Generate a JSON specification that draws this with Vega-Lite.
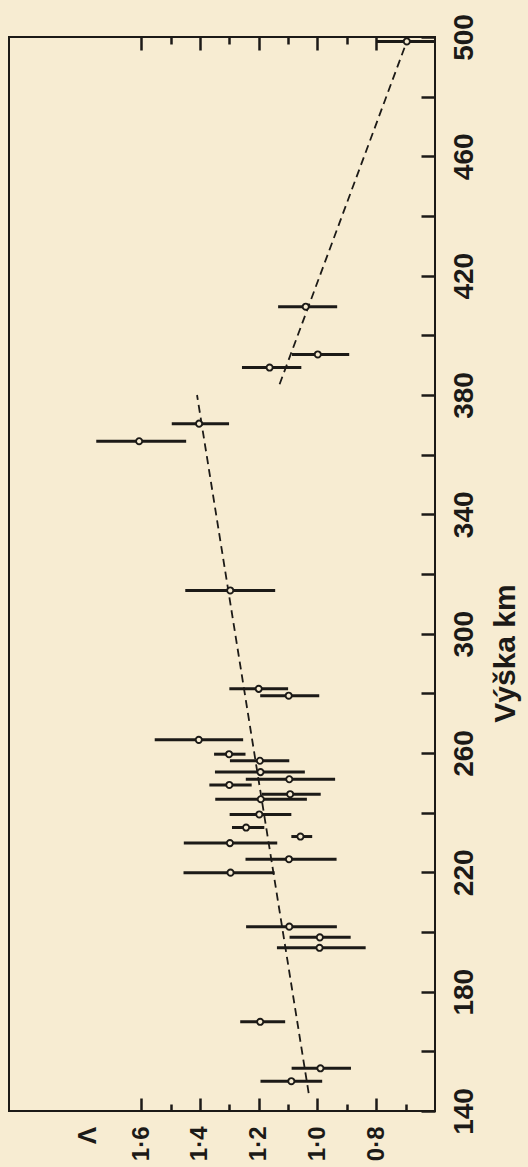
{
  "$schema": "https://vega.github.io/schema/vega-lite/v6.json",
  "autosize": "none",
  "width": 426,
  "height": 1074,
  "padding": {"left": 9, "top": 37, "right": 93, "bottom": 56},
  "background": "#f7ecd2",
  "datasets": {
    "pts": [
      {"h": 498.5, "lam": 0.696, "lo": 0.6, "hi": 0.8},
      {"h": 409.6, "lam": 1.04, "lo": 0.933, "hi": 1.134},
      {"h": 393.6, "lam": 0.999, "lo": 0.892, "hi": 1.087},
      {"h": 389.2, "lam": 1.163, "lo": 1.055, "hi": 1.257},
      {"h": 370.4, "lam": 1.403, "lo": 1.301, "hi": 1.496},
      {"h": 364.5, "lam": 1.607, "lo": 1.447, "hi": 1.753},
      {"h": 314.5, "lam": 1.297, "lo": 1.144, "hi": 1.45},
      {"h": 281.5, "lam": 1.2, "lo": 1.1, "hi": 1.3},
      {"h": 279.2, "lam": 1.098, "lo": 0.994, "hi": 1.195},
      {"h": 264.4, "lam": 1.404, "lo": 1.253, "hi": 1.554},
      {"h": 259.6, "lam": 1.301, "lo": 1.245, "hi": 1.352},
      {"h": 257.4, "lam": 1.196, "lo": 1.096, "hi": 1.298},
      {"h": 253.6, "lam": 1.194, "lo": 1.043, "hi": 1.349},
      {"h": 251.2, "lam": 1.096, "lo": 0.94, "hi": 1.244},
      {"h": 249.3, "lam": 1.3, "lo": 1.224, "hi": 1.368},
      {"h": 246.2, "lam": 1.093, "lo": 0.989, "hi": 1.189},
      {"h": 244.5, "lam": 1.193, "lo": 1.036, "hi": 1.348},
      {"h": 239.4, "lam": 1.198, "lo": 1.089, "hi": 1.299},
      {"h": 235.0, "lam": 1.243, "lo": 1.181, "hi": 1.291},
      {"h": 232.0, "lam": 1.058, "lo": 1.018, "hi": 1.089},
      {"h": 229.8, "lam": 1.298, "lo": 1.137, "hi": 1.455},
      {"h": 224.4, "lam": 1.097, "lo": 0.935, "hi": 1.245},
      {"h": 219.9, "lam": 1.296, "lo": 1.146, "hi": 1.456},
      {"h": 201.8, "lam": 1.096, "lo": 0.934, "hi": 1.243},
      {"h": 198.2, "lam": 0.992, "lo": 0.887, "hi": 1.095},
      {"h": 194.7, "lam": 0.993, "lo": 0.836, "hi": 1.138},
      {"h": 169.9, "lam": 1.195, "lo": 1.11, "hi": 1.263},
      {"h": 154.3, "lam": 0.99, "lo": 0.886, "hi": 1.088},
      {"h": 150.0, "lam": 1.089, "lo": 0.984, "hi": 1.194}
    ],
    "fit": [
      {"seg": "a", "h": 146, "lam": 1.03},
      {"seg": "a", "h": 380, "lam": 1.41},
      {"seg": "b", "h": 383.6, "lam": 1.129},
      {"seg": "b", "h": 498.5, "lam": 0.696}
    ]
  },
  "layer": [
    {
      "data": {"name": "pts"},
      "mark": {"type": "rule", "strokeWidth": 3, "color": "#1c1a17"},
      "encoding": {
        "x": {
          "field": "lo", "type": "quantitative",
          "scale": {"domain": [0.6, 2.05], "reverse": true, "nice": false, "zero": false},
          "axis": {
            "orient": "bottom",
            "values": [0.7, 0.8, 0.9, 1.0, 1.1, 1.2, 1.3, 1.4, 1.5, 1.6],
            "tickSize": {"condition": {"test": "round(datum.value*10) % 2 == 0", "value": -13}, "value": -7},
            "labelExpr": "round(datum.value*10) % 2 == 0 ? replace(format(datum.value, '.1f'), '.', '·') : ''",
            "labelAngle": 270,
            "labelAlign": "right",
            "labelBaseline": "middle",
            "labelPadding": 28,
            "labelFont": "Liberation Sans Narrow, Liberation Sans, sans-serif",
            "labelFontWeight": "bold",
            "labelFontSize": 24,
            "labelFlush": false,
            "labelOverlap": false,
            "labelBound": false,
            "title": "Λ",
            "titleAngle": 270,
            "titleX": 78,
            "titleY": 24,
            "titleAlign": "center",
            "titleBaseline": "middle",
            "titleFont": "Liberation Sans Narrow, Liberation Sans, sans-serif",
            "titleFontWeight": "bold",
            "titleFontSize": 26
          }
        },
        "x2": {"field": "hi"},
        "y": {
          "field": "h", "type": "quantitative",
          "scale": {"domain": [140, 500], "nice": false, "zero": false},
          "axis": {
            "orient": "right",
            "values": [140, 150, 160, 170, 180, 190, 200, 210, 220, 230, 240, 250, 260, 270, 280, 290, 300, 310, 320, 330, 340, 350, 360, 370, 380, 390, 400, 410, 420, 430, 440, 450, 460, 470, 480, 490, 500],
            "format": "d",
            "tickSize": {"condition": {"test": "datum.value % 20 == 0", "value": -14}, "value": -8},
            "labelExpr": "(datum.value - 140) % 40 == 0 ? datum.label : ''",
            "labelAngle": 270,
            "labelAlign": "center",
            "labelBaseline": "top",
            "labelPadding": 29,
            "labelFont": "Liberation Sans Narrow, Liberation Sans, sans-serif",
            "labelFontWeight": "bold",
            "labelFontSize": 28,
            "labelFlush": false,
            "labelOverlap": false,
            "labelBound": false,
            "title": "Výška km",
            "titleAngle": 270,
            "titleX": 70,
            "titleY": 616,
            "titleAlign": "center",
            "titleBaseline": "middle",
            "titleFont": "Liberation Sans, Arial, sans-serif",
            "titleFontWeight": "bold",
            "titleFontSize": 30
          }
        }
      }
    },
    {
      "data": {"name": "fit"},
      "mark": {"type": "line", "strokeWidth": 1.8, "strokeDash": [8, 5], "color": "#1c1a17"},
      "encoding": {
        "x": {
          "field": "lam", "type": "quantitative",
          "axis": {
            "orient": "top",
            "values": [0.7, 0.8, 0.9, 1.0, 1.1, 1.2, 1.3, 1.4, 1.5, 1.6],
            "tickSize": {"condition": {"test": "round(datum.value*10) % 2 == 0", "value": -13}, "value": -7},
            "labels": false,
            "title": null
          }
        },
        "y": {"field": "h", "type": "quantitative"},
        "detail": {"field": "seg"},
        "order": {"field": "h"}
      }
    },
    {
      "data": {"name": "pts"},
      "mark": {"type": "point", "shape": "circle", "filled": false, "fill": "#f7ecd2", "fillOpacity": 1, "stroke": "#1c1a17", "strokeWidth": 1.9, "size": 38, "opacity": 1},
      "encoding": {
        "x": {"field": "lam", "type": "quantitative", "axis": null},
        "y": {"field": "h", "type": "quantitative"}
      }
    }
  ],
  "resolve": {"axis": {"x": "independent"}},
  "config": {
    "view": {"stroke": "#1c1a17", "strokeWidth": 2},
    "axis": {"grid": false, "domain": false, "tickColor": "#1c1a17", "tickWidth": 2.5, "labelColor": "#1c1a17", "titleColor": "#1c1a17"}
  }
}
